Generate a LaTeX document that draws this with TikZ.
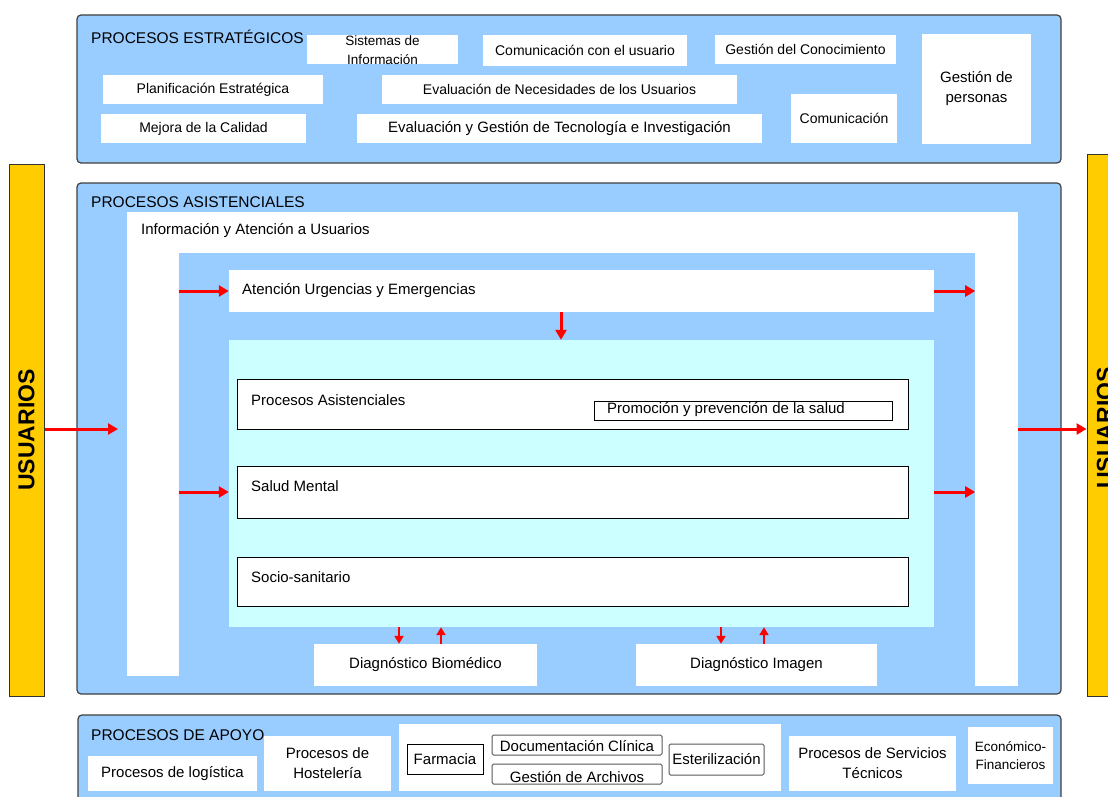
\documentclass[tikz,border=0pt]{standalone}
\usepackage{fontspec}
\setmainfont{Liberation Sans}
\usetikzlibrary{arrows.meta,positioning}
\definecolor{panelblue}{HTML}{99CCFF}
\definecolor{lightcyan}{HTML}{CCFFFF}
\definecolor{usuyellow}{HTML}{FFCC00}

\begin{document}
\begin{tikzpicture}[x=1pt,y=-1pt,
  panel/.style={rectangle,draw=black!75,line width=1.2pt,rounded corners=4pt,fill=panelblue,inner sep=0pt},
  wbox/.style={rectangle,fill=white,inner sep=0pt,align=center,font=\fontsize{15}{20}\selectfont},
  sbox/.style={wbox,font=\fontsize{14}{19}\selectfont},
  bbox/.style={rectangle,draw=black,line width=1pt,fill=white,inner sep=0pt,font=\fontsize{15}{18}\selectfont},
  gbox/.style={rectangle,draw=black!65,line width=1pt,rounded corners=1.5pt,fill=white,inner sep=0pt,font=\fontsize{15}{18}\selectfont},
  txt/.style={inner sep=0pt,anchor=west,font=\fontsize{15}{18}\selectfont},
  ptitle/.style={inner sep=0pt,anchor=west,font=\fontsize{15.5}{18}\selectfont},
  usubar/.style={rectangle,draw=black!80,line width=1pt,fill=usuyellow,inner sep=0pt,minimum width=35pt,font=\bfseries\fontsize{23}{26}\selectfont},
  flow/.style={draw=red,line width=3pt,-{Triangle[length=10pt,width=11pt]}},
  diagflow/.style={draw=red,line width=2.5pt,-{Triangle[length=8pt,width=9pt]}}]
  \clip (0,0) rectangle (1108,797);
  \fill[white] (0,0) rectangle (1108,797);

  \node[panel,minimum width=984pt,minimum height=148pt] (estrat) at (569,89) {};
  \node[ptitle] (estrattitle) at (91,37) {PROCESOS ESTRATÉGICOS};
  \node[sbox,minimum width=151pt,minimum height=29pt] (sistemas) at (382.5,49.5) {};
  \node[inner sep=0pt,align=center,font=\fontsize{13.5}{19}\selectfont] (sistemastxt) at (382.5,50.5) {Sistemas de\\Información};
  \node[sbox,minimum width=204pt,minimum height=31pt] (comusu) at (585,50.5) {Comunicación con el usuario};
  \node[sbox,minimum width=181pt,minimum height=29pt] (conoc) at (805.5,49.5) {Gestión del Conocimiento};
  \node[wbox,minimum width=109pt,minimum height=110pt] (personas) at (976.5,89) {Gestión de\\personas};
  \node[sbox,minimum width=220pt,minimum height=29pt] (planif) at (213,89.5) {Planificación Estratégica};
  \node[sbox,minimum width=355pt,minimum height=29pt] (necesid) at (559.5,89.5) {Evaluación de Necesidades de los Usuarios};
  \node[sbox,minimum width=106pt,minimum height=49pt] (comunic) at (844,118.5) {Comunicación};
  \node[sbox,minimum width=205pt,minimum height=29pt] (mejora) at (203.5,128.5) {Mejora de la Calidad};
  \node[wbox,minimum width=405pt,minimum height=29pt] (tecno) at (559.5,128.5) {Evaluación y Gestión de Tecnología e Investigación};

  \node[usubar,minimum height=532pt] (usuleft) at (26.5,430) {};
  \node[rotate=90,font=\bfseries\fontsize{23}{26}\selectfont] (usulefttxt) at (usuleft) {USUARIOS};
  \node[usubar,minimum height=542pt] (usuright) at (1104.5,425) {};
  \node[rotate=90,font=\bfseries\fontsize{23}{26}\selectfont] (usurighttxt) at (1105,428) {USUARIOS};

  \node[panel,minimum width=984pt,minimum height=511pt] (asist) at (569,438.5) {};
  \node[ptitle] (asisttitle) at (91,202) {PROCESOS ASISTENCIALES};
  \node[rectangle,fill=white,minimum width=891pt,minimum height=464pt] (infoframe) at (572.5,444) {};
  \node[rectangle,fill=white,minimum width=43pt,minimum height=20pt] (infofoot) at (996.5,676) {};
  \node[txt] (infotxt) at (141,231) {Información y Atención a Usuarios};
  \node[rectangle,fill=panelblue,minimum width=796pt,minimum height=439pt] (inner) at (577,472.5) {};
  \node[rectangle,fill=white,minimum width=705pt,minimum height=42pt] (urg) at (581.5,291) {};
  \node[txt] (urgtxt) at (242,291) {Atención Urgencias y Emergencias};
  \node[rectangle,fill=lightcyan,minimum width=705pt,minimum height=287pt] (clinic) at (581.5,483.5) {};
  \node[bbox,minimum width=671pt,minimum height=50pt] (procasist) at (572.5,404) {};
  \node[txt] (procasisttxt) at (251,400) {Procesos Asistenciales};
  \node[bbox,minimum width=298pt,minimum height=19pt] (promo) at (743,410.5) {};
  \node[txt] (promotxt) at (607,410) {Promoción y prevención de la salud};
  \node[bbox,minimum width=671pt,minimum height=52pt] (salud) at (572.5,492) {};
  \node[txt] (saludtxt) at (251,486) {Salud Mental};
  \node[bbox,minimum width=671pt,minimum height=49pt] (socio) at (572.5,581.5) {};
  \node[txt] (sociotxt) at (251,577) {Socio-sanitario};
  \node[wbox,minimum width=223pt,minimum height=42pt] (biomed) at (425.5,665) {Diagnóstico Biomédico};
  \node[wbox,minimum width=241pt,minimum height=42pt] (imagen) at (756.5,665) {Diagnóstico Imagen};

  \node[panel,minimum width=983pt,minimum height=130pt] (apoyo) at (569.5,780) {};
  \node[ptitle] (apoyotitle) at (91,735) {PROCESOS DE APOYO};
  \node[wbox,minimum width=169pt,minimum height=35pt] (logist) at (172.5,773.5) {Procesos de logística};
  \node[wbox,minimum width=127pt,minimum height=55pt] (hostel) at (327.5,763.5) {Procesos de\\Hostelería};
  \node[rectangle,fill=white,minimum width=382pt,minimum height=67pt] (farmcont) at (590,757.5) {};
  \node[bbox,minimum width=76pt,minimum height=30pt] (farmacia) at (445,759) {Farmacia};
  \node[gbox,minimum width=170pt,minimum height=20pt] (docu) at (577,745) {};
  \node[inner sep=0pt,font=\fontsize{15}{18}\selectfont] (docutxt) at (577,746) {Documentación Clínica};
  \node[gbox,minimum width=170pt,minimum height=20pt] (archiv) at (577,774) {};
  \node[inner sep=0pt,font=\fontsize{15}{18}\selectfont] (archivtxt) at (577,777) {Gestión de Archivos};
  \node[gbox,minimum width=95pt,minimum height=31pt] (ester) at (716.5,759.5) {Esterilización};
  \node[wbox,minimum width=167pt,minimum height=55pt] (servtec) at (872.5,763.5) {Procesos de Servicios\\Técnicos};
  \node[wbox,minimum width=85pt,minimum height=57pt,font=\fontsize{13.5}{18}\selectfont] (econ) at (1010.5,755.5) {Económico-\\Financieros};

  \coordinate (usuin) at (118,429);
  \draw[flow] (usuleft.east |- usuin) -- (usuin);
  \draw[flow] (infoframe.east |- usuin) -- (usuright.west |- usuin);
  \draw[flow] (inner.west |- urg) -- (urg.west);
  \draw[flow] (urg.east) -- (inner.east |- urg);
  \draw[flow] (inner.west |- salud) -- (clinic.west |- salud);
  \draw[flow] (clinic.east |- salud) -- (inner.east |- salud);
  \draw[flow] (561,0 |- urg.south) -- (561,0 |- clinic.north);
  \draw[diagflow] (399,0 |- clinic.south) -- (399,0 |- biomed.north);
  \draw[diagflow] (441,0 |- biomed.north) -- (441,0 |- clinic.south);
  \draw[diagflow] (721,0 |- clinic.south) -- (721,0 |- imagen.north);
  \draw[diagflow] (764,0 |- imagen.north) -- (764,0 |- clinic.south);

\end{tikzpicture}
\end{document}
